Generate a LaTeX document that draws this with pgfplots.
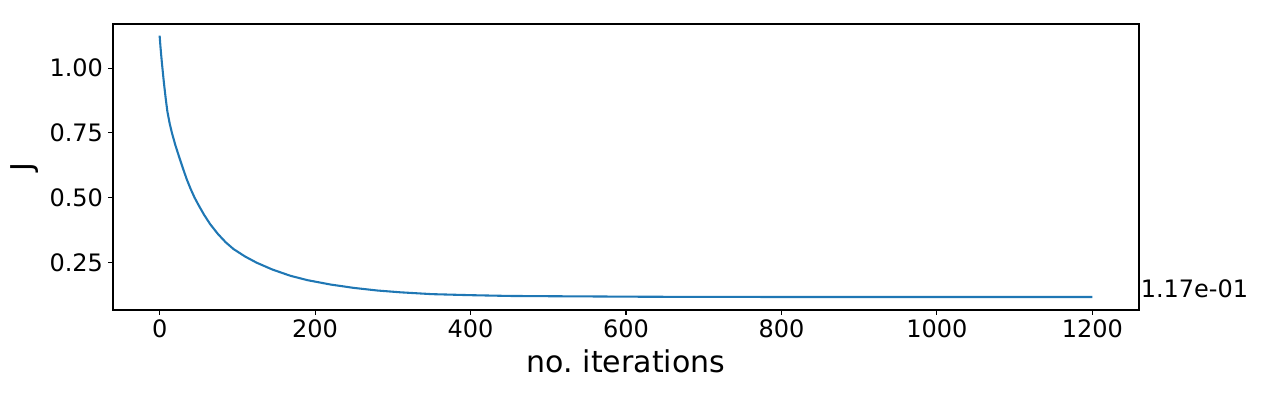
\documentclass[border=0pt]{standalone}
\usepackage{fontspec}
\setmainfont{DejaVu Sans}
\usepackage{pgfplots}
\pgfplotsset{compat=1.18}

\definecolor{mplBlue}{HTML}{1F77B4}

\begin{document}
\begin{tikzpicture}[x=1pt,y=1pt]
% page = 1279 x 405, axis box at 113..1139 x 24..310 (pixels, origin top left)
\path[use as bounding box] (-113,-95) rectangle (1166,310);
\begin{axis}[
	at={(0,0)}, anchor=south west,
	scale only axis,
	width=1026pt, height=286pt,
	xmin=-60, xmax=1260,
	ymin=0.0668, ymax=1.1700,
	xtick={0,200,...,1200},
	ytick={0.25,0.5,0.75,1.0},
	yticklabel style={/pgf/number format/fixed,/pgf/number format/fixed zerofill,/pgf/number format/precision=2},
	xticklabel style={/pgf/number format/1000 sep={}},
	/pgf/number format/assume math mode=true,
	tick label style={font=\fontsize{24}{28}\selectfont,inner sep=0pt},
	x tick label style={yshift=-5pt},
	y tick label style={xshift=-5pt},
	label style={font=\fontsize{30}{34}\selectfont},
	xlabel={no.\ iterations},
	ylabel={J},
	xlabel style={at={(axis description cs:0.5,-0.217)},anchor=base},
	ylabel style={at={(axis description cs:-0.0858,0.5)},anchor=center},
	tick align=outside,
	xtick pos=bottom, ytick pos=left,
	major tick length=4.86pt,
	every tick/.style={black,line width=1.1pt},
	axis line style={black,line width=1.1pt},
	clip=false,
]
\addplot[mplBlue,line width=2.08pt] coordinates {
	(0,1.125) (1,1.085) (2,1.050) (3,1.018) (4,0.988) (5,0.958) (6,0.930)
	(8,0.878) (10,0.832) (13,0.785) (16,0.748) (20,0.705) (25,0.658)
	(30,0.613) (35,0.570) (40,0.533) (45,0.500) (50,0.472) (57,0.435)
	(65,0.398) (75,0.360) (85,0.328) (95,0.302) (110,0.273) (125,0.249)
	(145,0.223) (168,0.199) (190,0.182) (220,0.165) (250,0.152)
	(280,0.142) (310,0.135) (350,0.128) (400,0.124) (450,0.121) (500,0.120)
	(560,0.119) (620,0.118) (680,0.1175) (800,0.117) (1000,0.117) (1200,0.117)
};
\node[anchor=west,inner sep=0pt,font=\fontsize{24}{28}\selectfont]
	at (axis cs:1262,0.150) {1.17e-01};
\end{axis}
\end{tikzpicture}
\end{document}
